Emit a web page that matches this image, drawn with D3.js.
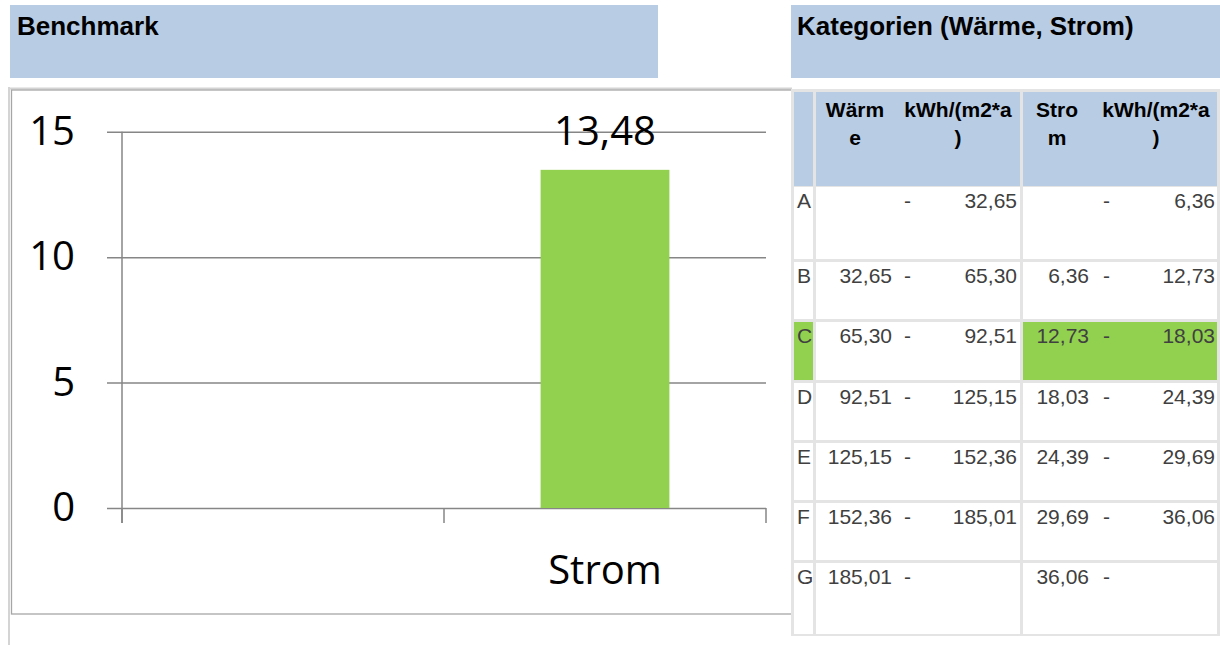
<!DOCTYPE html>
<html>
<head>
<meta charset="utf-8">
<script src="https://cdn.jsdelivr.net/npm/d3@7/dist/d3.min.js"></script>
<style>
  html, body { margin: 0; padding: 0; background: #ffffff; }
  svg { display: block; }
</style>
</head>
<body>
<svg id="chart" width="1220" height="645"></svg>
<script>
// ---------- data ----------
const chartTitle = "Benchmark";
const tableTitle = "Kategorien (Wärme, Strom)";
const categories = ["", "Strom"];
const values = [null, 13.48];
const yTicks = [0, 5, 10, 15];
const rowLabels = ["A", "B", "C", "D", "E", "F", "G"];
const waermeFrom = [null, 32.65, 65.30, 92.51, 125.15, 152.36, 185.01];
const waermeTo   = [32.65, 65.30, 92.51, 125.15, 152.36, 185.01, null];
const stromFrom  = [null, 6.36, 12.73, 18.03, 24.39, 29.69, 36.06];
const stromTo    = [6.36, 12.73, 18.03, 24.39, 29.69, 36.06, null];
const headerLines = [["Wärm", "e"], ["kWh/(m2*a", ")"], ["Stro", "m"], ["kWh/(m2*a", ")"]];

// ---------- helpers ----------
const de = d3.formatLocale({ decimal: ",", thousands: ".", grouping: [3], currency: ["", " €"] });
const fmt = de.format(".2f");
const svg = d3.select("#chart");
const BLUE = "#b8cce4", GREEN = "#92d050", AXIS = "#868686";
const chartFont = "'Open Sans', 'Noto Sans', sans-serif";
const tabFont = "'Liberation Sans', Arial, sans-serif";

// ---------- title boxes ----------
svg.append("rect").attr("x", 10).attr("y", 5).attr("width", 648).attr("height", 73).attr("fill", BLUE);
svg.append("text").attr("x", 17).attr("y", 35).text(chartTitle)
  .attr("font-family", tabFont).attr("font-weight", "bold").attr("font-size", 26).attr("fill", "#000");
svg.append("rect").attr("x", 791).attr("y", 5).attr("width", 429).attr("height", 73).attr("fill", BLUE);
svg.append("text").attr("x", 797).attr("y", 35).text(tableTitle)
  .attr("font-family", tabFont).attr("font-weight", "bold").attr("font-size", 26).attr("fill", "#000");

// ---------- chart frame ----------
svg.append("line").attr("x1", 9).attr("x2", 9).attr("y1", 87).attr("y2", 645)
  .attr("stroke", "#d4d4d4").attr("stroke-width", 2);
svg.append("line").attr("x1", 8).attr("x2", 792).attr("y1", 88.5).attr("y2", 88.5)
  .attr("stroke", "#d4d4d4").attr("stroke-width", 2);
svg.append("rect").attr("x", 11.5).attr("y", 90).attr("width", 781).attr("height", 524)
  .attr("fill", "none").attr("stroke", "#a6a6a6").attr("stroke-width", 1.3);

// ---------- scales ----------
const y = d3.scaleLinear().domain([0, 15]).range([508, 131.7]);
const x = d3.scaleBand().domain(categories).range([122, 766]).paddingInner(0).paddingOuter(0);
const barFrac = 0.4;

// gridlines + y labels
const gAxisY = svg.append("g").attr("transform", "translate(107,0)")
  .call(d3.axisLeft(y).tickValues(yTicks).tickSize(-(766 - 107)).tickPadding(32).tickFormat(d3.format("d")));
gAxisY.select(".domain").remove();
gAxisY.selectAll(".tick line").attr("stroke", AXIS).attr("stroke-width", 1.5);
gAxisY.selectAll(".tick text").attr("font-family", chartFont).attr("font-size", 40).attr("fill", "#000");

// y axis line
svg.append("line").attr("x1", 122).attr("x2", 122).attr("y1", y(15)).attr("y2", 523)
  .attr("stroke", AXIS).attr("stroke-width", 1.5);

// x axis category boundary ticks
const bounds = categories.map(c => x(c)).concat([x.range()[1]]);
svg.append("g").selectAll("line").data(bounds).join("line")
  .attr("x1", d => d).attr("x2", d => d).attr("y1", y(0)).attr("y2", 523)
  .attr("stroke", AXIS).attr("stroke-width", 1.5);

// x labels
const gAxisX = svg.append("g").attr("transform", `translate(0,${y(0)})`)
  .call(d3.axisBottom(x).tickSize(0).tickPadding(0));
gAxisX.select(".domain").remove();
gAxisX.selectAll(".tick text").attr("y", 76).attr("dy", null)
  .attr("font-family", chartFont).attr("font-size", 40).attr("fill", "#000");

// bars
const barData = categories.map((c, i) => ({ c, v: values[i] })).filter(d => d.v != null);
svg.append("g").selectAll("rect").data(barData).join("rect")
  .attr("x", d => x(d.c) + x.bandwidth() * (1 - barFrac) / 2)
  .attr("width", x.bandwidth() * barFrac)
  .attr("y", d => y(d.v))
  .attr("height", d => y(0) - y(d.v))
  .attr("fill", GREEN);
// value labels
svg.append("g").selectAll("text").data(barData).join("text")
  .attr("x", d => x(d.c) + x.bandwidth() / 2)
  .attr("y", d => y(d.v) - 25)
  .attr("text-anchor", "middle")
  .attr("font-family", chartFont).attr("font-size", 40).attr("fill", "#000")
  .text(d => fmt(d.v));

// ---------- table ----------
const stromValue = values[1];
const hiIndex = rowLabels.findIndex((r, i) =>
  (stromFrom[i] == null || stromValue >= stromFrom[i]) && (stromTo[i] == null || stromValue < stromTo[i]));

const tX0 = 791, tY0 = 89, tW = 429, tH = 547, gap = 3;
const colX = [794, 816, 1023], colW = [19, 204, 194];
const headH = 94;
const rowH = [72, 57, 58, 57, 57, 57, 71];
svg.append("rect").attr("x", tX0).attr("y", tY0).attr("width", tW).attr("height", tH).attr("fill", "#e4e4e4");

const headTop = tY0 + gap;
colX.forEach((cx, j) => {
  svg.append("rect").attr("x", cx).attr("y", headTop).attr("width", colW[j]).attr("height", headH).attr("fill", BLUE);
});
const headCenters = [855, 958, 1057, 1156];
headerLines.forEach((lines, j) => {
  lines.forEach((ln, k) => {
    svg.append("text").attr("x", headCenters[j]).attr("y", 117 + k * 28)
      .attr("text-anchor", "middle").attr("font-family", tabFont).attr("font-weight", "bold")
      .attr("font-size", 21).attr("fill", "#000").text(ln);
  });
});

let rowTop = headTop + headH + 1;
const textAttrs = (sel) => sel.attr("font-family", tabFont).attr("font-size", 21).attr("fill", "#404040");
rowLabels.forEach((lab, i) => {
  const h = rowH[i];
  colX.forEach((cx, j) => {
    const green = (i === hiIndex) && (j === 0 || j === 2);
    svg.append("rect").attr("x", cx).attr("y", rowTop).attr("width", colW[j]).attr("height", h)
      .attr("fill", green ? GREEN : "#ffffff");
  });
  const base = rowTop + 21;
  textAttrs(svg.append("text").attr("x", 797).attr("y", base).text(lab));
  if (waermeFrom[i] != null) textAttrs(svg.append("text").attr("x", 892).attr("y", base).attr("text-anchor", "end").text(fmt(waermeFrom[i])));
  textAttrs(svg.append("text").attr("x", 904).attr("y", base).text("-"));
  if (waermeTo[i] != null) textAttrs(svg.append("text").attr("x", 1017).attr("y", base).attr("text-anchor", "end").text(fmt(waermeTo[i])));
  if (stromFrom[i] != null) textAttrs(svg.append("text").attr("x", 1089).attr("y", base).attr("text-anchor", "end").text(fmt(stromFrom[i])));
  textAttrs(svg.append("text").attr("x", 1103).attr("y", base).text("-"));
  if (stromTo[i] != null) textAttrs(svg.append("text").attr("x", 1215).attr("y", base).attr("text-anchor", "end").text(fmt(stromTo[i])));
  rowTop += h + gap;
});
</script>
</body>
</html>
